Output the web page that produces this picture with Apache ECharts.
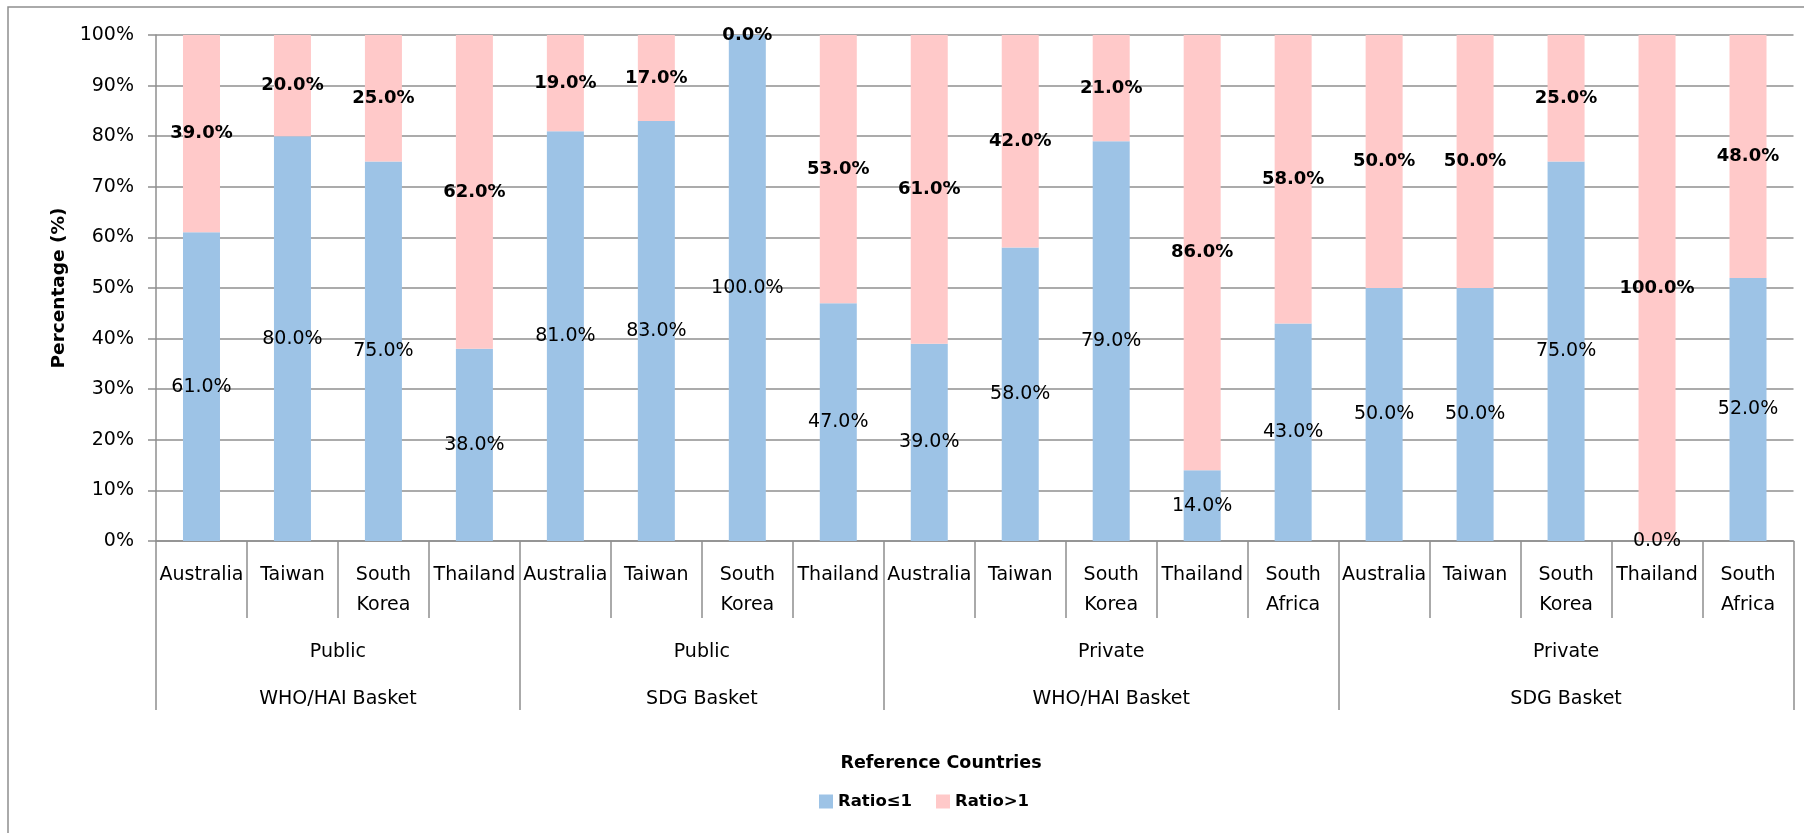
<!DOCTYPE html>
<html>
<head>
<meta charset="utf-8">
<title>Ratio distribution by reference country</title>
<script src="https://cdn.jsdelivr.net/npm/echarts@6/dist/echarts.min.js"></script>
<style>
  html, body { margin: 0; padding: 0; background: #fff; }
  #chart { width: 1804px; height: 833px; }
</style>
</head>
<body>
<div id="chart"></div>
<script>
// Reference countries, grouped by sector and medicine basket
const countries = [
  'Australia', 'Taiwan', 'South\nKorea', 'Thailand',
  'Australia', 'Taiwan', 'South\nKorea', 'Thailand',
  'Australia', 'Taiwan', 'South\nKorea', 'Thailand', 'South\nAfrica',
  'Australia', 'Taiwan', 'South\nKorea', 'Thailand', 'South\nAfrica'
];
// Group spans along the category axis (start index, end index exclusive)
const groupBounds = [0, 4, 8, 13, 18];
const sectors = ['Public', 'Public', 'Private', 'Private'];
const baskets = ['WHO/HAI Basket', 'SDG Basket', 'WHO/HAI Basket', 'SDG Basket'];

// Percentages per country
const ratioLE1 = [61, 80, 75, 38, 81, 83, 100, 47, 39, 58, 79, 14, 43, 50, 50, 75, 0, 52];
const ratioGT1 = [39, 20, 25, 62, 19, 17, 0, 53, 61, 42, 21, 86, 58, 50, 50, 25, 100, 48];

const yTicks = [0, 10, 20, 30, 40, 50, 60, 70, 80, 90, 100];

const FONT = 'DejaVu Sans';
const GRAY = '#8f8f8f';

// centre of each group, in category units
const groupCenters = [];
for (let i = 0; i < groupBounds.length - 1; i++) {
  groupCenters.push((groupBounds[i] + groupBounds[i + 1]) / 2);
}

const chart = echarts.init(document.getElementById('chart'));

chart.setOption({
  animation: false,
  textStyle: { fontFamily: FONT, color: '#000' },
  graphic: [{
    type: 'rect',
    silent: true,
    z: -1,
    shape: { x: 8, y: 7, width: 2000, height: 1000 },
    style: { fill: 'none', stroke: GRAY, lineWidth: 1.5 }
  }],
  title: {
    text: 'Reference Countries',
    left: 936,
    top: 749,
    textAlign: 'center',
    textStyle: { fontFamily: FONT, fontSize: 17.5, fontWeight: 'bold', color: '#000' }
  },
  legend: {
    data: ['Ratio≤1', 'Ratio>1'],
    left: 814,
    top: 788,
    icon: 'rect',
    itemWidth: 14,
    itemHeight: 14,
    itemGap: 24,
    textStyle: { fontFamily: FONT, fontSize: 16.5, fontWeight: 'bold', color: '#000' }
  },
  grid: { left: 156, right: 10.5, top: 35, bottom: 292, containLabel: false },
  xAxis: [
    {
      type: 'category',
      data: countries,
      position: 'bottom',
      boundaryGap: true,
      axisLine: { show: true, lineStyle: { color: GRAY, width: 1.5 } },
      axisTick: { show: true, interval: 0, length: 77, lineStyle: { color: GRAY, width: 1.5 } },
      axisLabel: {
        interval: 0, margin: 19, fontFamily: FONT, fontSize: 19, lineHeight: 30, color: '#000'
      },
      splitLine: { show: false }
    },
    {
      type: 'value',
      min: 0,
      max: countries.length,
      position: 'bottom',
      axisLine: { show: false },
      axisTick: {
        show: true, length: 169, customValues: groupBounds,
        lineStyle: { color: GRAY, width: 1.5 }
      },
      axisLabel: {
        show: true, margin: 88, customValues: groupCenters,
        fontFamily: FONT, fontSize: 19, lineHeight: 47, color: '#000',
        formatter: function (v) {
          const i = groupCenters.indexOf(v);
          return i < 0 ? '' : sectors[i] + '\n' + baskets[i];
        }
      },
      splitLine: { show: false }
    }
  ],
  yAxis: {
    type: 'value',
    min: 0,
    max: 100,
    interval: 10,
    name: 'Percentage (%)',
    nameLocation: 'middle',
    nameGap: 85,
    nameTextStyle: { fontFamily: FONT, fontSize: 18.5, fontWeight: 'bold', color: '#000' },
    axisLine: { show: true, lineStyle: { color: GRAY, width: 1.5 } },
    axisTick: { show: true, length: 8, lineStyle: { color: GRAY, width: 1.5 } },
    axisLabel: {
      margin: 22, fontFamily: FONT, fontSize: 19, color: '#000',
      customValues: yTicks,
      formatter: '{value}%'
    },
    splitLine: { show: true, lineStyle: { color: GRAY, width: 1.5 } }
  },
  series: [
    {
      name: 'Ratio≤1',
      type: 'bar',
      stack: 'share',
      barWidth: 37,
      data: ratioLE1,
      itemStyle: { color: '#9DC3E6' },
      label: {
        show: true, position: 'inside',
        fontFamily: FONT, fontSize: 19, fontWeight: 'normal', color: '#000',
        formatter: p => p.value.toFixed(1) + '%'
      }
    },
    {
      name: 'Ratio>1',
      type: 'bar',
      stack: 'share',
      barWidth: 37,
      data: ratioGT1,
      itemStyle: { color: '#FFC9C9' },
      label: {
        show: true, position: 'inside',
        fontFamily: FONT, fontSize: 18, fontWeight: 'bold', color: '#000',
        formatter: p => p.value.toFixed(1) + '%'
      }
    }
  ]
});
</script>
</body>
</html>
